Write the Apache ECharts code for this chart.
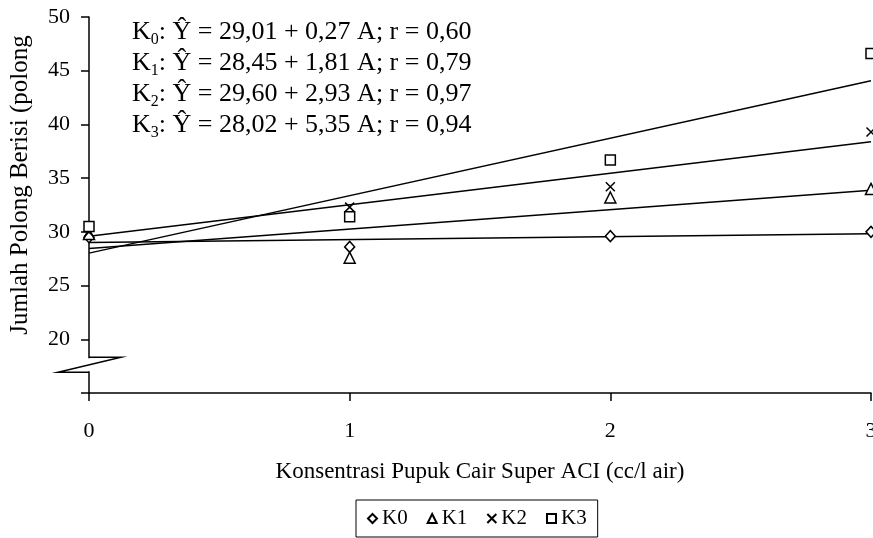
<!DOCTYPE html>
<html>
<head>
<meta charset="utf-8">
<script src="https://cdn.jsdelivr.net/npm/echarts@6/dist/echarts.min.js"></script>
<style>
  html, body { margin: 0; padding: 0; background: #fff; }
  #chart { width: 873px; height: 538px; }
</style>
</head>
<body>
<div id="chart"></div>
<script>
(function () {
    // data
    const xValues = [0, 1, 2, 3];
    const seriesNames = ['K0', 'K1', 'K2', 'K3'];
    const k0 = [29.5, 28.6, 29.6, 30.0];
    const k1 = [29.8, 27.6, 33.2, 34.0];
    const k2 = [30.0, 32.3, 34.2, 39.3];
    const k3 = [30.5, 31.4, 36.7, 46.6];
    // fitted lines, values at A = 0 and A = 3
    const trendX = [0, 3];
    const trendK0 = [29.01, 29.82];
    const trendK1 = [28.45, 33.88];
    const trendK2 = [29.60, 38.39];
    const trendK3 = [28.02, 44.07];
    const equations = [
        ['0', ': Ŷ = 29,01 + 0,27 A; r = 0,60'],
        ['1', ': Ŷ = 28,45 + 1,81 A; r = 0,79'],
        ['2', ': Ŷ = 29,60 + 2,93 A; r = 0,97'],
        ['3', ': Ŷ = 28,02 + 5,35 A; r = 0,94']
    ];

    const font = 'Liberation Serif';
    const points = [k0, k1, k2, k3];
    const trends = [trendK0, trendK1, trendK2, trendK3];
    const symbols = ['diamond', 'triangle', 'path://M0,0L10,10M10,0L0,10', 'rect'];
    const sizes = [[10, 11], [11, 11], [9, 9], [10, 10]];

    const pair = (xs, ys) => xs.map((x, i) => [x, ys[i]]);

    const series = [];
    trends.forEach((t, i) => {
        series.push({
            name: 'trend' + i,
            type: 'line',
            data: pair(trendX, t),
            symbol: 'none',
            silent: true,
            z: 1,
            lineStyle: { color: '#000', width: 1.5 }
        });
    });
    points.forEach((p, i) => {
        series.push({
            name: seriesNames[i],
            type: 'scatter',
            data: pair(xValues, p),
            symbol: symbols[i],
            symbolSize: sizes[i],
            z: 3,
            itemStyle: { color: '#fff', borderColor: '#000', borderWidth: 1.5, opacity: 1 }
        });
    });

    const option = {
        animation: false,
        backgroundColor: '#fff',
        textStyle: { fontFamily: font, color: '#000' },
        grid: { left: 89, right: 2, top: 17, bottom: 145, outerBoundsMode: 'none' },
        xAxis: {
            type: 'value',
            min: 0, max: 3, interval: 1,
            name: 'Konsentrasi Pupuk Cair Super ACI (cc/l air)',
            nameLocation: 'middle',
            nameGap: 67,
            nameTextStyle: { fontSize: 23, color: '#000', fontFamily: font },
            axisLine: { lineStyle: { color: '#000', width: 1.5 } },
            axisTick: { inside: false, length: 8, lineStyle: { color: '#000', width: 1.5 } },
            axisLabel: { margin: 27, fontSize: 22, color: '#000', fontFamily: font },
            splitLine: { show: false }
        },
        yAxis: {
            type: 'value',
            min: 15, max: 50, interval: 5,
            name: 'Jumlah Polong Berisi (polong',
            nameLocation: 'middle',
            nameGap: 56,
            nameTextStyle: { fontSize: 25, color: '#000', fontFamily: font, padding: [0, 0, 0, 40] },
            axisLine: { lineStyle: { color: '#000', width: 1.5 } },
            axisTick: { inside: false, length: 8, lineStyle: { color: '#000', width: 1.5 } },
            axisLabel: {
                margin: 19, fontSize: 22, color: '#000', fontFamily: font,
                formatter: v => (v === 15 ? '' : String(v))
            },
            splitLine: { show: false }
        },
        legend: {
            data: seriesNames,
            left: 356,
            bottom: 1,
            orient: 'horizontal',
            itemWidth: 9,
            itemHeight: 9,
            itemGap: 19,
            padding: [8, 11],
            borderColor: '#000',
            borderWidth: 1,
            borderRadius: 0,
            textStyle: { fontSize: 21, color: '#000', fontFamily: font, padding: [0, 0, 0, 0] }
        },
        series: series
    };

    const myChart = echarts.init(document.getElementById('chart'));
    myChart.setOption(option);

    // equation labels and axis-break mark
    const graphics = equations.map((e, i) => ({
        type: 'text',
        left: 132,
        top: 19 + i * 31,
        z: 10,
        style: {
            text: '{k|K}{s|' + e[0] + '}{k|' + e[1] + '}',
            fill: '#000',
            rich: {
                k: { fontSize: 26, fontFamily: font, lineHeight: 31 },
                s: { fontSize: 16, fontFamily: font, lineHeight: 20, verticalAlign: 'bottom' }
            }
        }
    }));

    const top = myChart.convertToPixel({ gridIndex: 0 }, [0, 18.33]);
    const bot = myChart.convertToPixel({ gridIndex: 0 }, [0, 16.93]);
    const ax = top[0];
    graphics.push({
        type: 'rect',
        z: 20,
        shape: { x: ax - 3, y: top[1] + 1, width: 6, height: bot[1] - top[1] - 2 },
        style: { fill: '#fff' }
    });
    graphics.push({
        type: 'polyline',
        z: 21,
        shape: { points: [[ax, top[1]], [ax + 32, top[1]], [ax - 31, bot[1]], [ax, bot[1]]] },
        style: { stroke: '#000', lineWidth: 1.5, fill: null }
    });
    myChart.setOption({ graphic: graphics });
}());
</script>
</body>
</html>
